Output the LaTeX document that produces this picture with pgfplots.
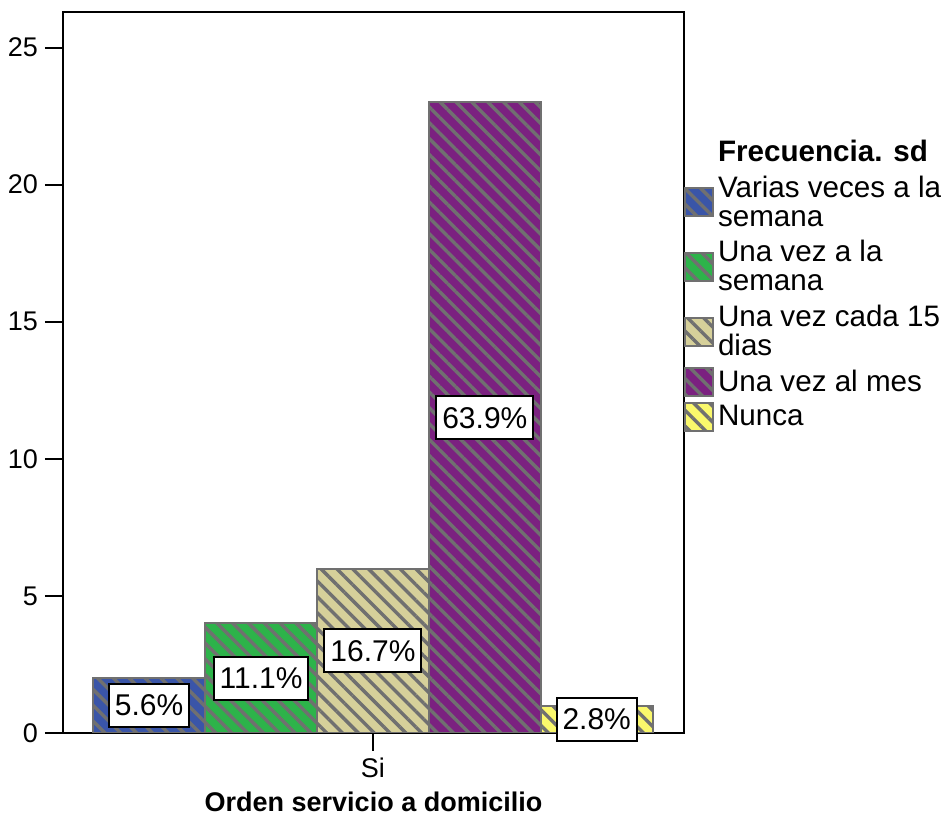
\documentclass[border=0pt]{standalone}
\usepackage{fontspec}
\setmainfont{Liberation Sans}
\usepackage{pgfplots}
\pgfplotsset{compat=1.18}
\usetikzlibrary{patterns.meta}

\definecolor{cblue}{HTML}{3A55A8}
\definecolor{cgreen}{HTML}{2DB34A}
\definecolor{ctan}{HTML}{D6D09A}
\definecolor{cpurple}{HTML}{7B2180}
\definecolor{cyellow}{HTML}{FAF86C}
\definecolor{edge}{HTML}{707070}

\pgfplotsset{
  hbar/.style={
    ybar, bar width=1, bar shift=0pt,
    draw=edge, line width=1pt, fill=#1,
    postaction={pattern={Lines[angle=-45,distance=5.6pt,line width=1.7pt]}, pattern color=edge},
    legend image code/.code={\draw[##1] (0pt,-7pt) rectangle (14pt,7pt);}
  }
}

\begin{document}
\begin{tikzpicture}
\begin{axis}[
    scale only axis,
    width=310.5pt, height=360.5pt,
    xmin=-2.77, xmax=2.78,
    ymin=0, ymax=26.3,
    xtick={0}, xticklabels={Si},
    ytick={0,5,10,15,20,25},
    xtick pos=bottom, ytick pos=left,
    tick align=outside, major tick length=9pt,
    tick style={black, line width=1pt},
    axis line style={black, line width=1pt},
    /pgf/number format/assume math mode=true,
    tick label style={font=\fontsize{13.5}{14}\selectfont},
    xlabel={\textbf{Orden servicio a domicilio}},
    label style={font=\fontsize{13.5}{14}\selectfont},
    legend style={at={(1,0.828)}, anchor=north west, draw=none, fill=none,
      inner sep=0pt, outer sep=0pt, row sep=1.6pt,
      font=\fontsize{14.8}{14.5}\selectfont,
      cells={anchor=west, align=left}},
]
\addlegendimage{empty legend}
\addlegendentry{\textbf{Frecuencia. sd}}
\addplot[hbar=cblue] coordinates {(-2,2)};
\addlegendentry{Varias veces a la\\semana}
\addplot[hbar=cgreen] coordinates {(-1,4)};
\addlegendentry{Una vez a la\\semana}
\addplot[hbar=ctan] coordinates {(0,6)};
\addlegendentry{Una vez cada 15\\dias}
\addplot[hbar=cpurple] coordinates {(1,23)};
\addlegendentry{Una vez al mes}
\addplot[hbar=cyellow] coordinates {(2,1)};
\addlegendentry{Nunca}
\addplot[forget plot, only marks, mark=none, point meta=explicit symbolic,
  nodes near coords,
  nodes near coords style={anchor=center, draw=black, line width=1pt, fill=white,
    inner xsep=3pt, inner ysep=5.5pt, font=\fontsize{15}{15}\selectfont}]
  coordinates {(-2,1) [5.6\%] (-1,2) [11.1\%] (0,3) [16.7\%] (1,11.5) [63.9\%] (2,0.5) [2.8\%]};
\end{axis}
\path (current axis.south west) +(-31.5pt,-42.5pt) rectangle +(443pt,366.5pt);
\end{tikzpicture}
\end{document}
